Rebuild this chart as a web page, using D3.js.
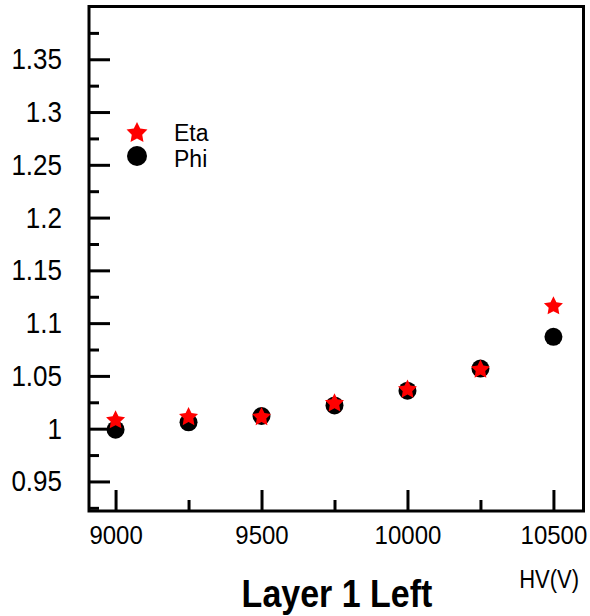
<!DOCTYPE html>
<html>
<head>
<meta charset="utf-8">
<script src="https://cdn.jsdelivr.net/npm/d3@7"></script>
<style>
  html, body { margin: 0; padding: 0; background: #fff; }
  svg text { font-family: "Liberation Sans", Arial, Helvetica, sans-serif; fill: #000; }
</style>
</head>
<body>
<div id="chart"></div>
<script>
// ── Data ──────────────────────────────────────────────────────────────────────
const hv = [9000, 9250, 9500, 9750, 10000, 10250, 10500];
const eta = [1.008, 1.011, 1.011, 1.024, 1.037, 1.056, 1.116];
const phi = [0.999, 1.006, 1.012, 1.022, 1.036, 1.057, 1.087];

const yMajor = [0.95, 1, 1.05, 1.1, 1.15, 1.2, 1.25, 1.3, 1.35];
const yMinor = [0.925, 0.975, 1.025, 1.075, 1.125, 1.175, 1.225, 1.275, 1.325, 1.375];
const xMajor = [9000, 9500, 10000, 10500];
const xMinor = [9250, 9750, 10250];

const seriesNames = ['Eta', 'Phi'];

// ── SVG setup ─────────────────────────────────────────────────────────────────
const W = 590, H = 616;
const svg = d3.select('#chart').append('svg')
  .attr('width', W)
  .attr('height', H);

const frame = { left: 89, right: 583.5, top: 6.5, bottom: 511 };

const x = d3.scaleLinear().domain([8909, 10603]).range([frame.left, frame.right]);
const y = d3.scaleLinear().domain([0.922, 1.4]).range([frame.bottom, frame.top]);

// text is slightly stretched vertically in the original
const stretch = 'scale(1,1.1)';

// ── Axes (ticks point inward) ────────────────────────────────────────────────
function styleTicks(sel) {
  sel.select('.domain').remove();
  sel.selectAll('.tick line').attr('stroke', '#000').attr('stroke-width', 3);
}

svg.append('g')
  .attr('transform', `translate(${frame.left},0)`)
  .call(d3.axisLeft(y).tickValues(yMinor).tickSize(-10).tickFormat(''))
  .call(styleTicks);

const yAxis = svg.append('g')
  .attr('transform', `translate(${frame.left},0)`)
  .call(d3.axisLeft(y).tickValues(yMajor).tickSize(-21).tickFormat(d3.format('')))
  .call(styleTicks);
yAxis.selectAll('.tick text')
  .attr('x', null).attr('y', null).attr('dy', null)
  .attr('text-anchor', 'end')
  .attr('font-size', 26)
  .attr('transform', `translate(-27,9.5) ${stretch}`);

svg.append('g')
  .attr('transform', `translate(0,${frame.bottom})`)
  .call(d3.axisBottom(x).tickValues(xMinor).tickSize(-11).tickFormat(''))
  .call(styleTicks);

const xAxis = svg.append('g')
  .attr('transform', `translate(0,${frame.bottom})`)
  .call(d3.axisBottom(x).tickValues(xMajor).tickSize(-21).tickFormat(d3.format('')))
  .call(styleTicks);
xAxis.selectAll('.tick text')
  .attr('y', null).attr('dy', null)
  .attr('text-anchor', 'middle')
  .attr('font-size', 24)
  .attr('transform', `translate(0,33) ${stretch}`);

// ── Frame ─────────────────────────────────────────────────────────────────────
svg.append('rect')
  .attr('x', frame.left).attr('y', frame.top)
  .attr('width', frame.right - frame.left)
  .attr('height', frame.bottom - frame.top)
  .attr('fill', 'none')
  .attr('stroke', '#000')
  .attr('stroke-width', 3);

// ── Markers ───────────────────────────────────────────────────────────────────
// chunky five-point star, closer to the ROOT full-star marker
const fatStar = {
  draw(context, size) {
    const r = Math.sqrt(size), ri = r * 0.5;
    for (let i = 0; i < 10; i++) {
      const a = -Math.PI / 2 + i * Math.PI / 5;
      const rr = i % 2 ? ri : r;
      if (i === 0) context.moveTo(rr * Math.cos(a), rr * Math.sin(a));
      else context.lineTo(rr * Math.cos(a), rr * Math.sin(a));
    }
    context.closePath();
  }
};
const star = d3.symbol().type(fatStar).size(100);
const starBig = d3.symbol().type(fatStar).size(121);

const points = svg.append('g');
points.selectAll('circle.phi')
  .data(hv.map((v, i) => ({ hv: v, val: phi[i] })))
  .join('circle')
  .attr('class', 'phi')
  .attr('cx', d => x(d.hv))
  .attr('cy', d => y(d.val))
  .attr('r', 9)
  .attr('fill', '#000');

points.selectAll('path.eta')
  .data(hv.map((v, i) => ({ hv: v, val: eta[i] })))
  .join('path')
  .attr('class', 'eta')
  .attr('d', star)
  .attr('transform', d => `translate(${x(d.hv)},${y(d.val)})`)
  .attr('fill', '#ff0000');

// ── Legend ────────────────────────────────────────────────────────────────────
const legend = svg.append('g');
legend.append('path')
  .attr('d', starBig)
  .attr('transform', 'translate(137,133)')
  .attr('fill', '#ff0000');
legend.append('circle')
  .attr('cx', 137).attr('cy', 156).attr('r', 10)
  .attr('fill', '#000');
legend.selectAll('text')
  .data(seriesNames)
  .join('text')
  .attr('font-size', 23)
  .attr('transform', (d, i) => `translate(174,${141 + i * 26})`)
  .text(d => d);

// ── Titles ────────────────────────────────────────────────────────────────────
svg.append('text')
  .attr('font-size', 22)
  .attr('text-anchor', 'end')
  .attr('transform', `translate(579,588) scale(1,1.2)`)
  .text('HV(V)');

svg.append('text')
  .attr('font-size', 34)
  .attr('font-weight', 'bold')
  .attr('text-anchor', 'middle')
  .attr('transform', `translate(337,607) scale(1,1.12)`)
  .text('Layer 1 Left');
</script>
</body>
</html>
